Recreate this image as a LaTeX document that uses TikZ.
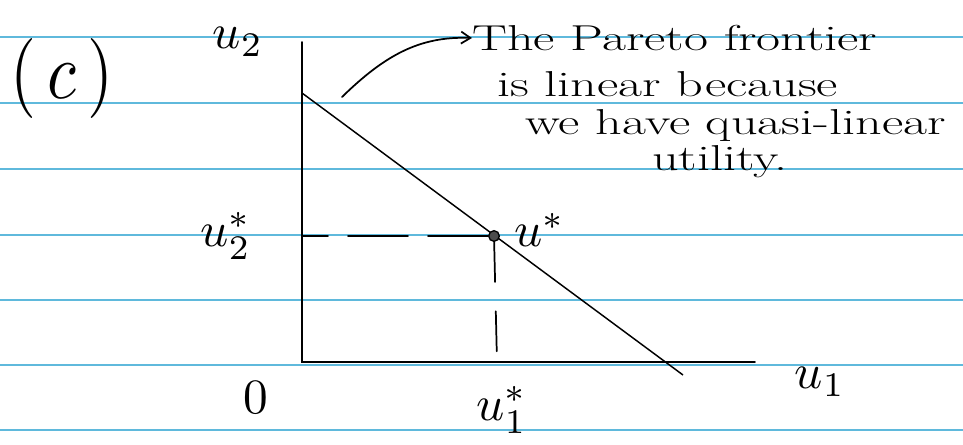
\documentclass[tikz,border=0pt]{standalone}
\usepackage{graphicx}
\usetikzlibrary{arrows.meta}
\definecolor{ruled}{RGB}{95,185,220}
\newcommand\biglbl[1]{\scalebox{3.7}{$#1$}}
\begin{document}
\begin{tikzpicture}[x=0.75pt,y=-0.75pt,
  rule/.style={ruled,line width=1.1pt},
  ink/.style={black,line width=1.3pt,line cap=round},
  guide/.style={black,line width=1.3pt,line cap=round,dash pattern=on 45pt off 15pt},
  lab/.style={inner sep=0pt},
  note/.style={inner sep=0pt,anchor=west,font=\fontsize{27}{31}\selectfont}]
\useasboundingbox (0,0) rectangle (963,444);
\fill[white] (0,0) rectangle (963,444);
% ruled lines of the paper
\foreach \yy in {37,103,169,235,300,365,430}
  \draw[rule] (0,\yy) -- (963,\yy);
% axes
\coordinate (O) at (302,362);
\coordinate (ytop) at (302,42);
\coordinate (xend) at (755,362);
\draw[ink] (ytop) -- (O) -- (xend);
% frontier
\coordinate (fa) at (302,93);
\coordinate (fb) at (683,375);
\draw[black,line width=1.1pt] (fa) -- (fb);
% optimum
\node[circle,draw,fill=black!70,line width=1pt,minimum size=8pt,inner sep=0pt] (ustar) at (494,236) {};
\coordinate (y2) at (302,236);
\coordinate (x1) at (497,362);
\draw[guide] (ustar) -- (y2);
\draw[guide,dash pattern=on 30pt off 22pt] (ustar) -- (x1);
% labels
\node[lab] (c) at (62,78) {\scalebox{5}[6]{(\,$c$\,)}};
\node[lab] (u2) at (238,42) {\biglbl{u_2}};
\node[lab] (u2s) at (226,236) {\biglbl{u_2^{*}}};
\node[lab] (uslab) at (540,230) {\biglbl{u^{*}}};
\node[lab] (zero) at (256,398) {\biglbl{0}};
\node[lab] (u1s) at (502,410) {\biglbl{u_1^{*}}};
\node[lab] (u1) at (820,382) {\biglbl{u_1}};
% note and arrow
\coordinate (arrs) at (342,97);
\node[note] (n1) at (472,38) {\scalebox{1.45}[1]{The Pareto frontier}};
\node[note] (n2) at (497,84) {\scalebox{1.45}[1]{is linear because}};
\node[note] (n3) at (525,126) {\scalebox{1.45}[1]{we have quasi-linear}};
\node[note] (n4) at (652,162) {\scalebox{1.45}[1]{utility.}};
\draw[ink,-{Straight Barb[length=7pt,width=9pt]}] (arrs) .. controls (385,55) and (420,36) .. (n1.west);
\end{tikzpicture}
\end{document}
